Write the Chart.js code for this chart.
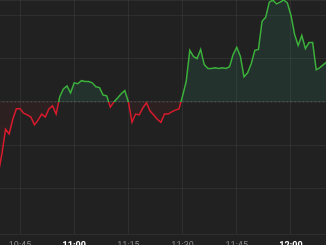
<!DOCTYPE html>
<html>
<head>
<meta charset="utf-8">
<script src="https://cdn.jsdelivr.net/npm/chart.js@4"></script>
<style>
    html, body { margin: 0; padding: 0; background: #212121; overflow: hidden; }
    #wrap { width: 326px; height: 257px; position: relative; }
</style>
</head>
<body>
<div id="wrap"><canvas id="intradayChart"></canvas></div>
<script>
// Données intraday (minutes depuis 10:00)
const minutes = [];
for (let m = 39; m <= 130; m++) minutes.push(m);

const prices = [
    98.35, 98.81, 99.37, 99.26, 99.60, 99.84, 99.84, 99.74, 99.70, 99.65,
    99.47, 99.58, 99.72, 99.65, 99.84, 99.91, 99.72, 100.12, 100.30, 100.37,
    100.21, 100.44, 100.42, 100.49, 100.47, 100.47, 100.44, 100.35, 100.33, 100.16,
    100.14, 99.88, 100.00, 100.09, 100.19, 100.26, 100.00, 99.53, 99.72, 99.70,
    99.86, 99.98, 99.79, 99.70, 99.60, 99.53, 99.72, 99.72, 99.77, 99.81,
    99.84, 100.14, 100.47, 101.19, 101.05, 101.00, 101.21, 100.86, 100.77, 100.77,
    100.79, 100.77, 100.79, 100.77, 100.81, 101.09, 101.26, 101.05, 100.58, 100.67,
    100.88, 101.19, 101.21, 101.86, 101.95, 102.30, 102.35, 102.26, 102.30, 102.35,
    102.28, 102.00, 101.56, 101.30, 101.53, 101.23, 101.37, 101.37, 100.74, 100.79,
    100.86, 100.93
];

const previousClose = 100;
const tickMinutes = [45, 60, 75, 90, 105, 120];
const tickLabels = ['10:45', '11:00', '11:15', '11:30', '11:45', '12:00'];

const upColor = '#3bb03b';
const downColor = '#d81a2c';

function splitColor(context, above, below) {
    const chart = context.chart;
    const area = chart.chartArea;
    if (!area) return above;
    const yPix = chart.scales.y.getPixelForValue(previousClose);
    let f = (yPix - area.top) / (area.bottom - area.top);
    f = Math.min(Math.max(f, 0), 1);
    const g = chart.ctx.createLinearGradient(0, area.top, 0, area.bottom);
    g.addColorStop(0, above);
    g.addColorStop(f, above);
    g.addColorStop(f, below);
    g.addColorStop(1, below);
    return g;
}

const ctx = document.getElementById('intradayChart').getContext('2d');

new Chart(ctx, {
    type: 'line',
    data: {
        datasets: [
            {
                label: 'Cours',
                data: minutes.map((m, i) => ({ x: m, y: prices[i] })),
                borderColor: function(context) {
                    return splitColor(context, upColor, downColor);
                },
                borderWidth: 1.5,
                pointRadius: 0,
                tension: 0,
                fill: {
                    target: { value: previousClose },
                    above: 'rgba(60, 170, 140, 0.12)',
                    below: 'rgba(216, 26, 44, 0.07)'
                }
            },
            {
                label: 'Clôture précédente',
                data: [
                    { x: minutes[0], y: previousClose },
                    { x: minutes[minutes.length - 1], y: previousClose }
                ],
                borderColor: 'rgba(255, 255, 255, 0.18)',
                borderWidth: 1,
                borderDash: [2, 2],
                pointRadius: 0,
                fill: false
            }
        ]
    },
    options: {
        responsive: true,
        maintainAspectRatio: false,
        animation: false,
        layout: { padding: 0 },
        plugins: {
            legend: { display: false },
            tooltip: { enabled: false }
        },
        scales: {
            x: {
                type: 'linear',
                min: 39.46,
                max: 129.7,
                afterBuildTicks: function(scale) {
                    scale.ticks = tickMinutes.map(v => ({ value: v }));
                },
                grid: {
                    color: 'rgba(255, 255, 255, 0.06)',
                    drawTicks: false
                },
                border: { display: false },
                ticks: {
                    padding: 6,
                    maxRotation: 0,
                    autoSkip: false,
                    callback: function(value) {
                        const i = tickMinutes.indexOf(value);
                        return i >= 0 ? tickLabels[i] : '';
                    },
                    color: function(c) {
                        return c.tick && c.tick.value % 60 === 0 ? '#ffffff' : '#8a8a8a';
                    },
                    font: function(c) {
                        const hour = c.tick && c.tick.value % 60 === 0;
                        return { family: 'Roboto, Arial, sans-serif', size: 9, weight: hour ? 'bold' : 'normal' };
                    }
                }
            },
            y: {
                min: 96.95,
                max: 102.35,
                ticks: { display: false, stepSize: 1 },
                grid: {
                    color: 'rgba(255, 255, 255, 0.06)',
                    drawTicks: false
                },
                border: { display: false }
            }
        }
    }
});
</script>
</body>
</html>
